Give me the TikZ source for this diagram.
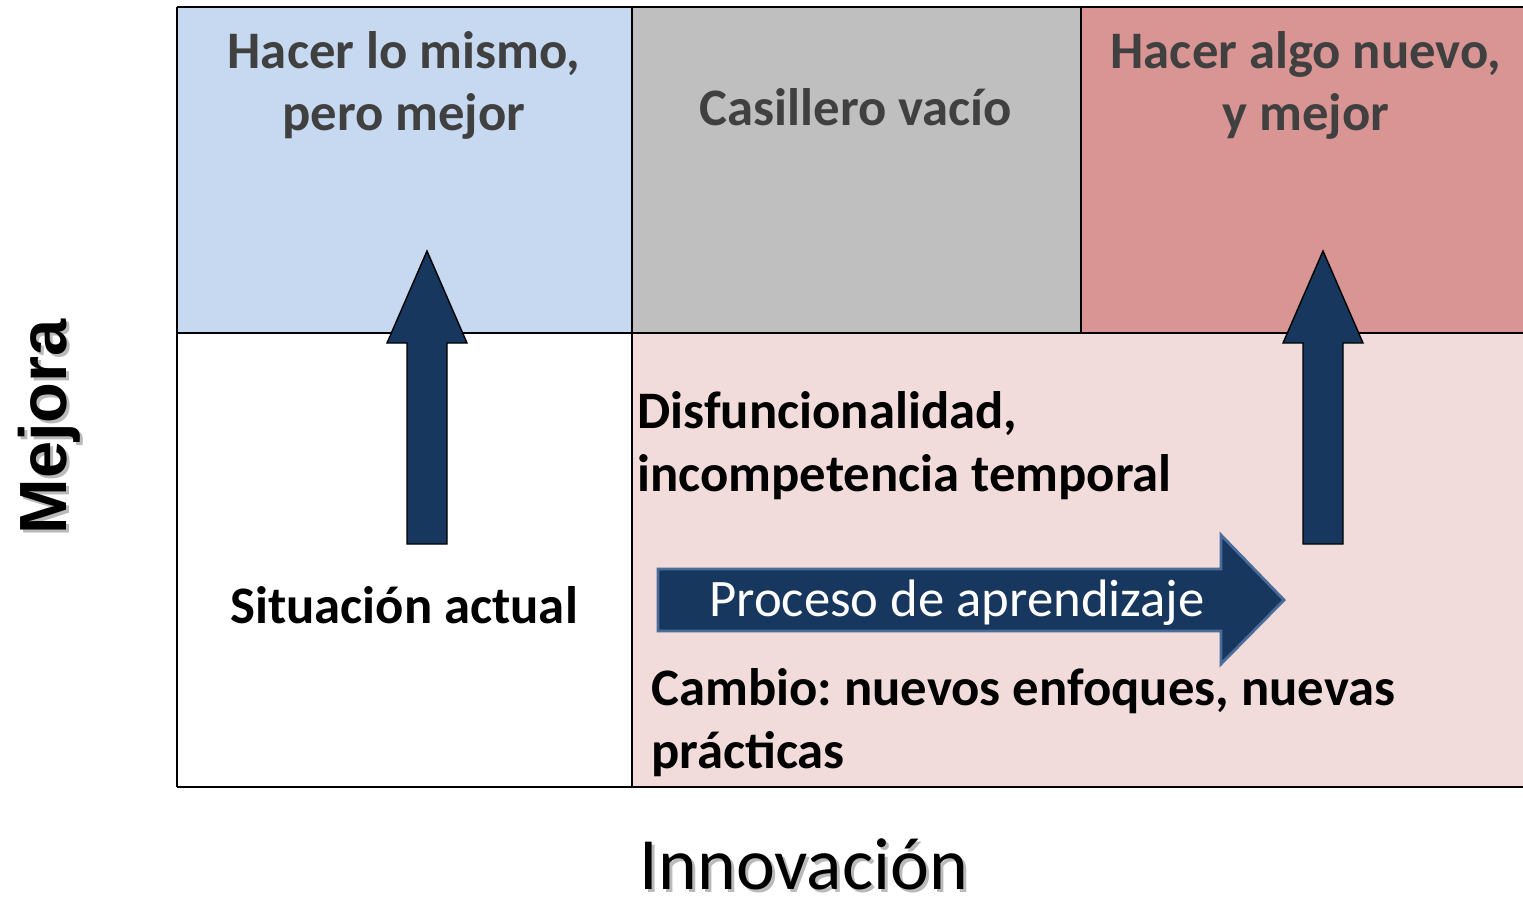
\documentclass[tikz,border=0pt]{standalone}
\usepackage{fontspec}
\setmainfont{Carlito}
\newfontfamily\arialfont{Liberation Sans}
\frenchspacing
\definecolor{cblue}{HTML}{C6D9F1}
\definecolor{cgrey}{HTML}{BFBFBF}
\definecolor{cred}{HTML}{D99594}
\definecolor{cpink}{HTML}{F2DCDB}
\definecolor{navy}{HTML}{17375E}
\definecolor{darktext}{HTML}{404040}
\definecolor{arrowrim}{HTML}{4A6C9B}
\begin{document}
\begin{tikzpicture}[x=0.02cm,y=-0.02cm,
  gridline/.style={line width=1.2pt,black},
  headtext/.style={font=\fontsize{30}{35.7}\selectfont\bfseries,text=darktext,align=center,inner sep=0pt},
  bodytext/.style={font=\fontsize{30}{35.7}\selectfont\bfseries\frenchspacing,text=black,align=left,inner sep=0pt},
  uparrow/.style={fill=navy,draw=black,line width=0.8pt,line join=miter},
  rightarrow/.style={fill=navy,draw=arrowrim,line width=1.6pt,line join=miter},
  shadowtext/.style={text=black!45,opacity=0.6}
]
\useasboundingbox (0,0) rectangle (1523,898);
% cells
\fill[cblue] (177,7) rectangle (632,333);
\fill[cgrey] (632,7) rectangle (1081,333);
\fill[cred] (1081,7) rectangle (1523,333);
\fill[white] (177,333) rectangle (632,787);
\fill[cpink] (632,333) rectangle (1523,787);
\draw[gridline] (177,7) -- (1523,7);
\draw[gridline] (177,333) -- (1523,333);
\draw[gridline] (177,787) -- (1523,787);
\draw[gridline] (177,7) -- (177,787);
\draw[gridline] (632,7) -- (632,787);
\draw[gridline] (1081,7) -- (1081,333);
% headings (base anchor = last line)
\node[headtext,anchor=base] (h1) at (404,131) {Hacer lo mismo,\\pero mejor};
\node[headtext,anchor=base] (h2) at (856,126) {Casillero vacío};
\node[headtext,anchor=base] (h3) at (1306,131) {Hacer algo nuevo,\\y mejor};
% vertical arrows
\draw[uparrow] (407,544) -- (407,343) -- (387,343) -- (427,251) -- (467,343) -- (447,343) -- (447,544) -- cycle;
\draw[uparrow] (1303,544) -- (1303,343) -- (1283,343) -- (1323,251) -- (1363,343) -- (1343,343) -- (1343,544) -- cycle;
% body texts
\node[bodytext,anchor=base west] (dis) at (637,491) {Disfuncionalidad,\\incompetencia temporal};
\node[bodytext,anchor=base] (sit) at (404,623) {Situación actual};
\node[bodytext,anchor=base west] (cam) at (651,768) {Cambio: nuevos enfoques, nuevas\\prácticas};
% process arrow
\draw[rightarrow] (658,569) -- (1221,569) -- (1221,535) -- (1284,600) -- (1221,664) -- (1221,631) -- (658,631) -- cycle;
\node[font=\fontsize{30}{36}\selectfont,text=white,anchor=base,inner sep=0pt] (proc) at (957,616) {Proceso de aprendizaje};
% axis labels
\node[shadowtext,font=\fontsize{42}{50}\selectfont,anchor=base,inner sep=0pt] at (807,892) {Innovación};
\node[font=\fontsize{42}{50}\selectfont,anchor=base,inner sep=0pt] (inn) at (804,889) {Innovación};
\node[shadowtext,font=\fontsize{38}{46}\selectfont\arialfont\bfseries,rotate=90,anchor=base,inner sep=0pt] at (69,430) {Mejora};
\node[font=\fontsize{38}{46}\selectfont\arialfont\bfseries,rotate=90,anchor=base,inner sep=0pt] (mej) at (66,427) {Mejora};
\end{tikzpicture}
\end{document}
